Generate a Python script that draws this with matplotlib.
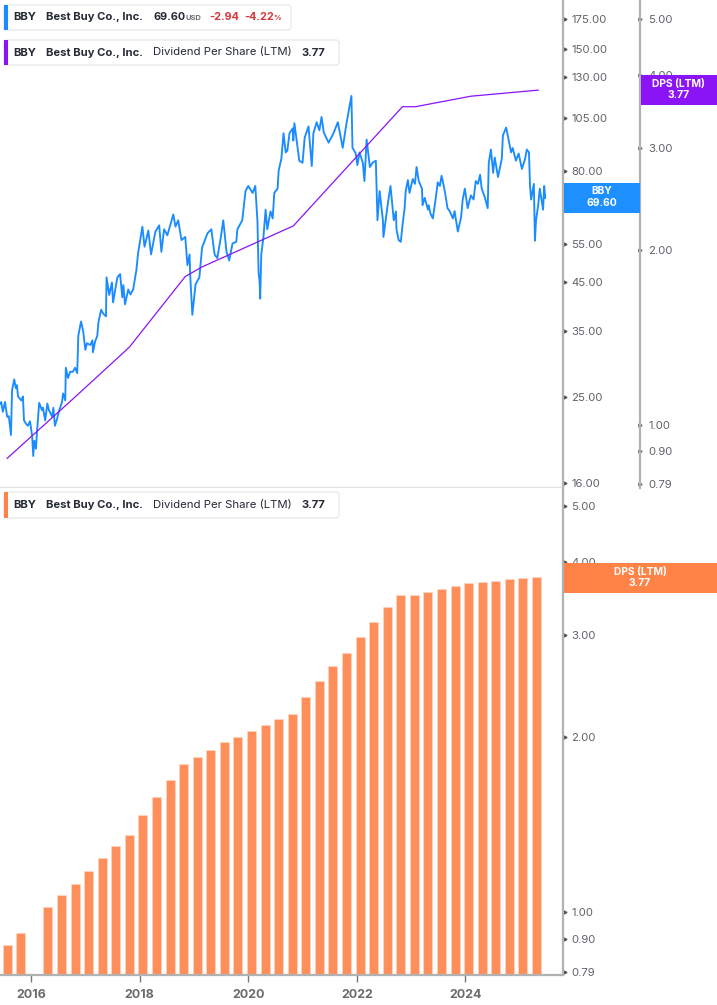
#!/usr/bin/env python3

import matplotlib
matplotlib.use('Agg')
import matplotlib.pyplot as plt
from matplotlib.patches import Rectangle, FancyBboxPatch

plt.rcParams['font.family'] = ['Inter', 'DejaVu Sans']

# daily close (decimal year, USD)
price_years = [
    2015.43, 2015.45, 2015.48, 2015.52, 2015.56, 2015.59, 2015.63, 2015.65, 2015.69, 2015.72,
    2015.74, 2015.76, 2015.82, 2015.85, 2015.87, 2015.91, 2015.94, 2015.98, 2016.02, 2016.04,
    2016.06, 2016.09, 2016.11, 2016.15, 2016.20, 2016.22, 2016.26, 2016.30, 2016.33, 2016.39,
    2016.41, 2016.44, 2016.48, 2016.52, 2016.57, 2016.59, 2016.63, 2016.64, 2016.68, 2016.72,
    2016.77, 2016.81, 2016.85, 2016.87, 2016.92, 2016.96, 2017.00, 2017.03, 2017.09, 2017.13,
    2017.14, 2017.18, 2017.22, 2017.24, 2017.29, 2017.33, 2017.38, 2017.39, 2017.44, 2017.49,
    2017.51, 2017.59, 2017.64, 2017.68, 2017.70, 2017.73, 2017.79, 2017.83, 2017.88, 2017.94,
    2017.97, 2018.05, 2018.09, 2018.16, 2018.21, 2018.29, 2018.36, 2018.40, 2018.45, 2018.51,
    2018.62, 2018.66, 2018.71, 2018.77, 2018.84, 2018.88, 2018.92, 2018.93, 2018.97, 2019.03,
    2019.10, 2019.15, 2019.25, 2019.32, 2019.38, 2019.43, 2019.49, 2019.54, 2019.60, 2019.65,
    2019.71, 2019.78, 2019.80, 2019.89, 2019.95, 2020.00, 2020.08, 2020.13, 2020.17, 2020.19,
    2020.21, 2020.22, 2020.24, 2020.28, 2020.32, 2020.35, 2020.41, 2020.45, 2020.48, 2020.54,
    2020.56, 2020.61, 2020.65, 2020.69, 2020.72, 2020.76, 2020.82, 2020.83, 2020.85, 2020.91,
    2020.94, 2021.00, 2021.04, 2021.11, 2021.17, 2021.20, 2021.26, 2021.31, 2021.35, 2021.39,
    2021.48, 2021.57, 2021.65, 2021.74, 2021.81, 2021.90, 2021.92, 2021.98, 2022.01, 2022.05,
    2022.11, 2022.14, 2022.18, 2022.24, 2022.29, 2022.35, 2022.38, 2022.42, 2022.48, 2022.49,
    2022.57, 2022.62, 2022.66, 2022.68, 2022.72, 2022.73, 2022.77, 2022.81, 2022.84, 2022.88,
    2022.90, 2022.94, 2022.97, 2023.03, 2023.07, 2023.10, 2023.14, 2023.20, 2023.21, 2023.25,
    2023.31, 2023.32, 2023.36, 2023.40, 2023.45, 2023.49, 2023.53, 2023.56, 2023.62, 2023.67,
    2023.71, 2023.77, 2023.80, 2023.86, 2023.92, 2023.95, 2023.99, 2024.04, 2024.10, 2024.15,
    2024.19, 2024.23, 2024.27, 2024.30, 2024.36, 2024.41, 2024.43, 2024.47, 2024.51, 2024.54,
    2024.60, 2024.67, 2024.69, 2024.75, 2024.78, 2024.84, 2024.87, 2024.93, 2024.98, 2025.04,
    2025.10, 2025.13, 2025.17, 2025.19, 2025.21, 2025.26, 2025.28, 2025.30, 2025.34, 2025.37,
    2025.43, 2025.45, 2025.47,
]
price_values = [
    24.1, 24.3, 23.1, 24.3, 22.5, 22.6, 20.5, 25.8, 27.3, 26.1,
    26.5, 25.0, 24.5, 25.0, 22.1, 21.7, 21.5, 22.0, 20.4, 18.4,
    19.9, 19.1, 20.9, 24.2, 23.3, 23.6, 22.1, 24.1, 23.3, 22.5,
    23.6, 21.5, 22.3, 23.3, 24.3, 25.4, 24.5, 29.0, 27.5, 28.4,
    28.4, 29.0, 28.2, 34.2, 36.8, 35.0, 31.8, 32.9, 32.6, 33.4,
    31.4, 33.2, 34.2, 36.6, 39.1, 38.3, 37.8, 46.2, 42.2, 45.0,
    40.6, 46.2, 47.0, 41.7, 44.4, 40.2, 43.4, 42.3, 43.4, 48.0,
    52.2, 60.0, 54.1, 58.8, 52.0, 58.5, 60.4, 52.7, 59.2, 57.4,
    63.9, 60.0, 62.0, 56.0, 56.9, 49.2, 52.0, 47.0, 38.1, 44.6,
    46.2, 53.9, 58.0, 59.2, 52.0, 51.0, 56.3, 62.0, 52.7, 50.4,
    55.0, 55.5, 59.2, 62.0, 72.1, 74.0, 71.4, 74.0, 61.6, 47.5,
    45.0, 41.4, 52.0, 56.9, 65.5, 59.2, 64.9, 62.6, 71.4, 73.0,
    80.0, 85.2, 97.1, 88.0, 88.8, 97.1, 99.6, 93.5, 102.3, 90.1,
    84.3, 83.4, 95.0, 100.6, 82.0, 97.1, 102.8, 98.6, 105.6, 97.6,
    92.5, 97.1, 102.8, 90.1, 102.3, 117.7, 90.1, 87.5, 82.4, 88.0,
    83.4, 75.9, 94.0, 81.6, 83.4, 84.3, 62.0, 72.1, 62.0, 56.9,
    67.4, 74.0, 65.9, 62.0, 64.9, 59.2, 56.0, 55.5, 60.3, 66.0,
    72.1, 76.3, 71.4, 76.7, 74.8, 81.6, 75.9, 73.0, 67.0, 69.6,
    65.5, 67.0, 64.0, 62.6, 69.0, 75.4, 74.0, 78.0, 72.1, 66.0,
    65.0, 62.6, 65.0, 58.5, 63.0, 69.0, 73.0, 66.0, 70.5, 69.0,
    75.9, 74.8, 78.4, 73.0, 69.6, 66.0, 83.4, 89.3, 79.2, 85.7,
    77.5, 85.2, 96.0, 100.0, 96.0, 88.0, 90.0, 84.3, 87.5, 80.8,
    85.2, 89.3, 88.0, 74.0, 69.0, 74.8, 55.8, 62.0, 67.0, 73.0,
    65.5, 74.0, 69.6,
]

# DPS line of the top panel
dps_line_years = [2015.56, 2015.76, 2016.81, 2017.81, 2018.84, 2019.15, 2020.83, 2022.84, 2023.08, 2024.10, 2025.34]
dps_line_values = [0.875, 0.91, 1.116, 1.36, 1.80, 1.87, 2.20, 3.53, 3.53, 3.68, 3.77]

# quarterly bars of the lower panel, the early-2016 quarter has no bar
bar_years = [
    2015.56, 2015.81, 2016.31, 2016.56, 2016.81, 2017.06, 2017.31, 2017.56, 2017.81, 2018.06,
    2018.31, 2018.56, 2018.81, 2019.06, 2019.31, 2019.56, 2019.81, 2020.06, 2020.31, 2020.56,
    2020.81, 2021.06, 2021.31, 2021.56, 2021.81, 2022.06, 2022.31, 2022.56, 2022.81, 2023.06,
    2023.31, 2023.56, 2023.81, 2024.06, 2024.31, 2024.56, 2024.81, 2025.06, 2025.31,
]
bar_values = [
    0.878, 0.92, 1.02, 1.07, 1.12, 1.18, 1.24, 1.30, 1.36, 1.47,
    1.58, 1.69, 1.80, 1.85, 1.90, 1.96, 2.00, 2.05, 2.10, 2.15,
    2.19, 2.35, 2.50, 2.65, 2.79, 2.98, 3.16, 3.35, 3.52, 3.52,
    3.56, 3.60, 3.64, 3.68, 3.70, 3.71, 3.74, 3.76, 3.77,
]

price_ticks = [175, 150, 130, 105, 80, 55, 45, 35, 25, 16]
dps_ticks = [5, 4, 3, 2, 1, 0.9, 0.79]
year_ticks = [2016, 2018, 2020, 2022, 2024]

BLUE = '#1a8cff'
PURPLE = '#8a14f5'
ORANGE = '#ff8347'
BAR_ORANGE = '#ff8f5a'
AXIS_GRAY = '#b2b2b2'
TICK_TEXT = '#5f6368'
DARK_TEXT = '#252a35'
RED = '#d5383b'

W, H = 717, 1005
XLIM = (2015.428, 2025.797)

fig = plt.figure(figsize=(W / 100, H / 100), dpi=100)


def px_axes(x0, y0, x1, y1):
    return fig.add_axes([x0 / W, 1 - y1 / H, (x1 - x0) / W, (y1 - y0) / H])


def style_value_axis(ax, ticks, ylim):
    ax.set_yscale('log')
    ax.set_ylim(*ylim)
    ax.yaxis.tick_right()
    ax.set_yticks(ticks)
    ax.set_yticklabels([f'{t:.2f}' for t in ticks])
    ax.minorticks_off()
    ax.tick_params(axis='y', length=0, pad=6, labelsize=8.2, labelcolor=TICK_TEXT)
    for t in ticks:
        ax.plot([1.004], [t], marker='>', ms=2.2, color='#555555',
                transform=ax.get_yaxis_transform(), clip_on=False)
    ax.set_ylim(*ylim)


def px_rect(x0, y0, x1, y1, color):
    fig.add_artist(Rectangle((x0 / W, 1 - y1 / H), (x1 - x0) / W, (y1 - y0) / H,
                             transform=fig.transFigure, facecolor=color, edgecolor='none'))


def px_text(x, y, s, **kw):
    kw.setdefault('color', DARK_TEXT)
    kw.setdefault('fontsize', 8.1)
    kw.setdefault('va', 'center')
    fig.text(x / W, 1 - y / H, s, **kw)


def legend_box(y0, y1, x1, color):
    box = FancyBboxPatch((3.5 / 100, (H - y1) / 100), (x1 - 3.5) / 100, (y1 - y0) / 100,
                         boxstyle='round,pad=0,rounding_size=0.03',
                         transform=fig.dpi_scale_trans, facecolor='white',
                         edgecolor='#e9eaec', linewidth=1)
    fig.add_artist(box)
    px_rect(3.5, y0, 8, y1, color)


# top panel, price and DPS on their own log scales
ax_price = px_axes(0, 0, 563, 488)
ax_price.plot(price_years, price_values, color=BLUE, lw=1.35, solid_joinstyle='round')
ax_price.set_xlim(*XLIM)
style_value_axis(ax_price, price_ticks, (15.6, 193))
ax_price.set_xticks([])
for side in ['top', 'left']:
    ax_price.spines[side].set_visible(False)
ax_price.spines['right'].set_color(AXIS_GRAY)
ax_price.spines['right'].set_linewidth(1.6)
ax_price.spines['bottom'].set_color('#e2e2e2')
ax_price.spines['bottom'].set_linewidth(1.6)

ax_line = px_axes(0, 0, 563, 488)
ax_line.patch.set_visible(False)
ax_line.plot(dps_line_years, dps_line_values, color=PURPLE, lw=0.9)
ax_line.set_xlim(*XLIM)
ax_line.set_yscale('log')
ax_line.set_ylim(0.778, 5.39)
ax_line.set_xticks([])
ax_line.set_yticks([])
ax_line.minorticks_off()
for side in ['top', 'left', 'bottom', 'right']:
    ax_line.spines[side].set_visible(False)

ax_dps = px_axes(563, 0, 640, 488)
ax_dps.patch.set_visible(False)
ax_dps.set_xticks([])
style_value_axis(ax_dps, dps_ticks, (0.778, 5.39))
for side in ['top', 'left', 'bottom']:
    ax_dps.spines[side].set_visible(False)
ax_dps.spines['right'].set_color(AXIS_GRAY)
ax_dps.spines['right'].set_linewidth(1.6)

# lower panel, bars
ax_bar = px_axes(0, 488, 563, 975)
ax_bar.set_yscale('log')
ax_bar.bar(bar_years, bar_values, width=0.166, color=BAR_ORANGE,
           edgecolor='#ffd9c6', linewidth=0.4)
ax_bar.set_xlim(*XLIM)
style_value_axis(ax_bar, dps_ticks, (0.78, 5.37))
ax_bar.set_xticks(year_ticks)
ax_bar.set_xticklabels([str(y) for y in year_ticks], fontweight='bold')
ax_bar.tick_params(axis='x', length=5, width=1, color='#777777', labelsize=9,
                   labelcolor='#6a6a6a', pad=5)
for side in ['top', 'left']:
    ax_bar.spines[side].set_visible(False)
for side in ['right', 'bottom']:
    ax_bar.spines[side].set_color(AXIS_GRAY)
    ax_bar.spines[side].set_linewidth(1.6)

# legend boxes
legend_box(5, 30, 291, BLUE)
legend_box(40, 65, 339, PURPLE)
legend_box(492, 518, 339, ORANGE)

for y in [17.5, 52.5, 505]:
    px_text(13, y, 'BBY', fontweight='bold')
    px_text(46, y, 'Best Buy Co., Inc.', fontweight='bold')

px_text(153, 17.5, '69.60', fontweight='bold', fontsize=7.8)
px_text(186, 18.5, 'USD', fontsize=5.4, color='#6a6e76', fontweight='bold')
px_text(209, 17.5, '-2.94', color=RED, fontweight='bold', fontsize=7.8)
px_text(244, 17.5, '-4.22', color=RED, fontweight='bold', fontsize=7.8)
px_text(273, 18.5, '%', color=RED, fontsize=5.4, fontweight='bold')

for y in [52.5, 505]:
    px_text(153, y, 'Dividend Per Share (LTM)', fontsize=8.2)
    px_text(302, y, '3.77', fontweight='bold')

# value tags on the axes
px_rect(563.5, 183, 640, 213, '#1e8fff')
px_text(601.5, 191.5, 'BBY', color='white', ha='center', fontsize=7.4, fontweight='bold')
px_text(601.5, 203, '69.60', color='white', ha='center', fontsize=7.4, fontweight='bold')

px_rect(640.5, 75, 717, 105, PURPLE)
px_text(678.5, 84, 'DPS (LTM)', color='white', ha='center', fontsize=7.4, fontweight='bold')
px_text(678.5, 95, '3.77', color='white', ha='center', fontsize=7.4, fontweight='bold')

px_rect(563.5, 563, 717, 593, ORANGE)
px_text(640, 572, 'DPS (LTM)', color='white', ha='center', fontsize=7.4, fontweight='bold')
px_text(640, 583, '3.77', color='white', ha='center', fontsize=7.4, fontweight='bold')

fig.savefig('out.png', dpi=100)
